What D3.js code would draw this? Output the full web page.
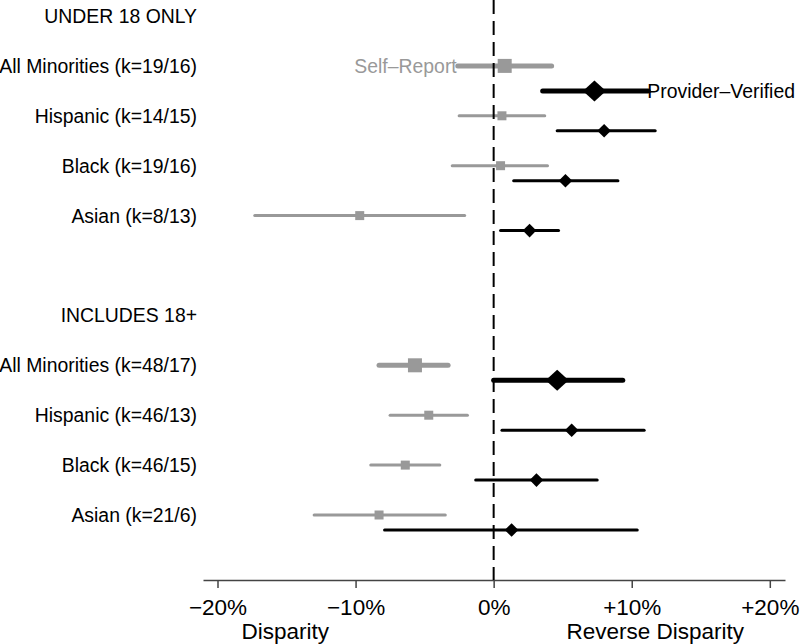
<!DOCTYPE html>
<html><head><meta charset="utf-8">
<script src="https://cdn.jsdelivr.net/npm/d3@7/dist/d3.min.js"></script>
<style>body{margin:0;background:#fff}svg{display:block;font-family:"Liberation Sans",Arial,Helvetica,sans-serif}</style>
</head><body><svg id="c" width="800" height="644"></svg>
<script>
// ---- data ----
const groups = ["UNDER 18 ONLY", "INCLUDES 18+"];
const categories = ["All Minorities", "Hispanic", "Black", "Asian"];
const kLabels = [["19/16","14/15","19/16","8/13"],["48/17","46/13","46/15","21/6"]];
// Self-Report: estimate, low, high (percent)
const srEst  = [[0.8, 0.6, 0.5, -9.7], [-5.7, -4.7, -6.4, -8.3]];
const srLow  = [[-2.6, -2.5, -3.0, -17.3], [-8.3, -7.5, -8.9, -13.0]];
const srHigh = [[4.2, 3.7, 3.9, -2.1], [-3.3, -1.9, -3.9, -3.5]];
// Provider-Verified: estimate, low, high (percent)
const pvEst  = [[7.3, 8.0, 5.2, 2.6], [4.6, 5.65, 3.1, 1.3]];
const pvLow  = [[3.55, 4.6, 1.45, 0.5], [0.0, 0.6, -1.3, -7.9]];
const pvHigh = [[11.2, 11.7, 9.0, 4.7], [9.35, 10.9, 7.5, 10.4]];
const tickValues = [-20, -10, 0, 10, 20];
const tickLabels = ["\u221220%", "\u221210%", "0%", "+10%", "+20%"];
const axisTitles = ["Disparity", "Reverse Disparity"];
const seriesNames = ["Self\u2013Report", "Provider\u2013Verified"];

// ---- layout ----
const svg = d3.select("#c");
const grey = "#999999", black = "#000000";
const x = d3.scaleLinear().domain([-21.05, 21.1]).range([203, 785]);
const rowIds = [];
groups.forEach((g, gi) => {
  rowIds.push("h" + gi);
  categories.forEach((c, ci) => rowIds.push(gi + "_" + ci));
  if (gi < groups.length - 1) rowIds.push("gap" + gi);
});
const y = d3.scalePoint().domain(rowIds).range([16, 515]);
const axisY = 580;

const rows = [];
groups.forEach((g, gi) => categories.forEach((c, ci) => rows.push({
  gi, ci, label: `${c} (k=${kLabels[gi][ci]})`,
  sr: {est: srEst[gi][ci], lo: srLow[gi][ci], hi: srHigh[gi][ci]},
  pv: {est: pvEst[gi][ci], lo: pvLow[gi][ci], hi: pvHigh[gi][ci]},
  big: ci === 0
})));
const pvOff = d => (d.gi === 0 && d.ci === 0) ? 25 : 15;

// labels
svg.selectAll("text.group").data(groups).join("text")
  .attr("x", 197).attr("y", (d, i) => y("h" + i) + 7)
  .attr("text-anchor", "end").attr("font-size", 19.4).text(d => d);
svg.selectAll("text.row").data(rows).join("text")
  .attr("x", 197).attr("y", d => y(d.gi + "_" + d.ci) + 7)
  .attr("text-anchor", "end").attr("font-size", 19.4).text(d => d.label);

// axis
const axis = d3.axisBottom(x).tickValues(tickValues)
  .tickFormat((d, i) => tickLabels[i]).tickSize(8).tickSizeOuter(0).tickPadding(11);
const ag = svg.append("g").attr("transform", `translate(0,${axisY})`).call(axis);
ag.select(".domain").attr("stroke", "#444").attr("stroke-width", 1.5);
ag.selectAll(".tick line").attr("stroke", "#444").attr("stroke-width", 1.5);
ag.selectAll(".tick text").attr("font-size", 22.5).attr("fill", "#000")
  .attr("font-family", "Liberation Sans, Arial, sans-serif");
svg.append("text").attr("x", x(-15.1)).attr("y", 639).attr("text-anchor", "middle")
  .attr("font-size", 22.5).text(axisTitles[0]);
svg.append("text").attr("x", x(11.7)).attr("y", 639).attr("text-anchor", "middle")
  .attr("font-size", 22.5).text(axisTitles[1]);

// CI lines
const g = svg.append("g");
g.selectAll("line.sr").data(rows).join("line")
  .attr("x1", d => x(d.sr.lo)).attr("x2", d => x(d.sr.hi))
  .attr("y1", d => y(d.gi + "_" + d.ci)).attr("y2", d => y(d.gi + "_" + d.ci))
  .attr("stroke", grey).attr("stroke-width", d => d.big ? 5 : 3).attr("stroke-linecap", "round");
g.selectAll("line.pv").data(rows).join("line")
  .attr("x1", d => x(d.pv.lo)).attr("x2", d => x(d.pv.hi))
  .attr("y1", d => y(d.gi + "_" + d.ci) + pvOff(d)).attr("y2", d => y(d.gi + "_" + d.ci) + pvOff(d))
  .attr("stroke", black).attr("stroke-width", d => d.big ? 5 : 3).attr("stroke-linecap", "round");

// zero line
svg.append("line").attr("x1", x(0)).attr("x2", x(0)).attr("y1", 0).attr("y2", axisY)
  .attr("stroke", "#000").attr("stroke-width", 2).attr("stroke-dasharray", "14,7");

// markers
g.selectAll("rect.sr").data(rows).join("rect")
  .attr("x", d => x(d.sr.est) - (d.big ? 7 : 4.5))
  .attr("y", d => y(d.gi + "_" + d.ci) - (d.big ? 7 : 4.5))
  .attr("width", d => d.big ? 14 : 9).attr("height", d => d.big ? 14 : 9).attr("fill", grey);
const diamond = (w, h) => `M0,${-h}L${w},0L0,${h}L${-w},0Z`;
g.selectAll("path.pv").data(rows).join("path")
  .attr("transform", d => `translate(${x(d.pv.est)},${y(d.gi + "_" + d.ci) + pvOff(d)})`)
  .attr("d", d => d.big ? diamond(11.5, 10.5) : diamond(6.8, 6.8)).attr("fill", black);

// series labels
const r0 = rows[0];
svg.append("text").attr("x", x(r0.sr.lo) - 1).attr("y", y("0_0") + 7).attr("text-anchor", "end")
  .attr("font-size", 19.4).attr("fill", grey).text(seriesNames[0]);
svg.append("text").attr("x", x(r0.pv.hi) - 1).attr("y", y("0_0") + pvOff(r0) + 7)
  .attr("font-size", 19.4).attr("fill", black).text(seriesNames[1]);
</script></body></html>
